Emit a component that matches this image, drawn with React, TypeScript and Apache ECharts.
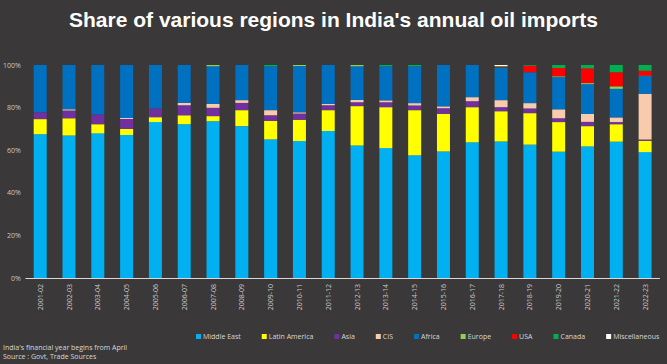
import React, { useEffect, useRef } from "react";
import * as echarts from "echarts";

const years = [
  "2001-02", "2002-03", "2003-04", "2004-05", "2005-06", "2006-07", "2007-08", "2008-09",
  "2009-10", "2010-11", "2011-12", "2012-13", "2013-14", "2014-15", "2015-16", "2016-17",
  "2017-18", "2018-19", "2019-20", "2020-21", "2021-22", "2022-23",
];

const middleEast = [67.5, 66.9, 67.9, 67.1, 73.2, 72.2, 73.6, 71.3, 65.1, 64.3, 69.0, 62.2, 61.0, 57.6, 59.4, 63.7, 64.1, 62.6, 59.3, 61.8, 64.0, 59.1];
const latinAmerica = [7.1, 8.1, 4.3, 2.8, 2.3, 4.2, 2.4, 7.5, 8.7, 10.0, 9.8, 18.5, 19.2, 21.2, 17.7, 16.5, 14.2, 14.8, 13.9, 9.5, 8.2, 5.3];
const asia = [3.2, 3.6, 4.6, 4.7, 4.1, 4.7, 3.9, 3.4, 2.6, 2.9, 2.3, 1.8, 2.3, 2.2, 2.6, 2.8, 1.9, 2.2, 1.8, 2.0, 1.0, 0.6];
const cis = [0, 0.6, 0, 0.5, 0, 1.1, 1.8, 1.3, 2.4, 0.6, 0.6, 1.1, 0.9, 1.1, 0.9, 1.9, 3.3, 2.5, 4.2, 3.7, 2.2, 21.5];
const africa = [22.2, 20.8, 23.2, 24.9, 20.4, 17.8, 17.7, 16.5, 20.6, 21.7, 18.3, 15.8, 16.0, 17.3, 19.4, 15.1, 15.2, 14.5, 15.1, 14.0, 13.4, 8.3];
const europe = [0, 0, 0, 0, 0, 0, 0.6, 0, 0, 0.5, 0, 0.6, 0, 0, 0, 0, 0, 0, 0.4, 0.5, 1.2, 0.2];
const usa = [0, 0, 0, 0, 0, 0, 0, 0, 0, 0, 0, 0, 0, 0, 0, 0, 0.4, 3.1, 3.9, 6.9, 6.6, 2.3];
const canada = [0, 0, 0, 0, 0, 0, 0, 0, 0.6, 0, 0, 0, 0.6, 0.6, 0, 0, 0.4, 0.3, 1.4, 1.6, 3.4, 2.7];
const miscellaneous = [0, 0, 0, 0, 0, 0, 0, 0, 0, 0, 0, 0, 0, 0, 0, 0, 0.5, 0, 0, 0, 0, 0];

const yTicks = [0, 20, 40, 60, 80, 100];

const seriesDefs = [
  { name: "Middle East", data: middleEast, color: "#00B0F0" },
  { name: "Latin America", data: latinAmerica, color: "#FFFF00" },
  { name: "Asia", data: asia, color: "#7030A0" },
  { name: "CIS", data: cis, color: "#F8CBAD" },
  { name: "Africa", data: africa, color: "#0070C0" },
  { name: "Europe", data: europe, color: "#92D050" },
  { name: "USA", data: usa, color: "#FF0000" },
  { name: "Canada", data: canada, color: "#00B050" },
  { name: "Miscellaneous", data: miscellaneous, color: "#FFFFFF" },
];

export default function App() {
  const ref = useRef<HTMLDivElement>(null);
  useEffect(() => {
    if (!ref.current) return;
    const chart = echarts.init(ref.current, undefined, { renderer: "svg" });
    const textColor = "#D9D9D9";
    chart.setOption({
      animation: false,
      backgroundColor: "#3A3838",
      title: {
        text: "Share of various regions in India's annual oil imports",
        left: "center",
        top: 4,
        textStyle: {
          color: "#FFFFFF",
          fontFamily: "Liberation Sans, Arial, sans-serif",
          fontWeight: "bold",
          fontSize: 21,
        },
      },
      grid: { left: 25, right: 7.5, top: 65, bottom: 86, containLabel: false },
      legend: {
        left: 196,
        top: 333,
        width: 470,
        itemWidth: 5,
        itemHeight: 5,
        itemGap: 21,
        icon: "rect",
        padding: 0,
        textStyle: { color: textColor, fontSize: 7, fontFamily: "Open Sans, sans-serif", padding: [0, 0, 0, -3] },
        data: seriesDefs.map((s) => s.name),
      },
      xAxis: {
        type: "category",
        data: years,
        axisLine: { show: true, lineStyle: { color: "#D9D9D9", width: 1 } },
        axisTick: { show: false },
        axisLabel: {
          rotate: 90,
          color: "#C8C8C8",
          fontSize: 7,
          fontFamily: "Open Sans, sans-serif",
          margin: 6,
          interval: 0,
        },
      },
      yAxis: {
        type: "value",
        min: yTicks[0],
        max: yTicks[yTicks.length - 1],
        interval: 20,
        splitLine: { show: false },
        axisLine: { show: false },
        axisTick: { show: false },
        axisLabel: {
          formatter: "{value}%",
          color: "#C8C8C8",
          fontSize: 7,
          fontFamily: "Open Sans, sans-serif",
          margin: 5,
        },
      },
      series: seriesDefs.map((s) => ({
        name: s.name,
        type: "bar",
        stack: "total",
        barWidth: 13,
        data: s.data,
        itemStyle: { color: s.color },
      })),
      graphic: [
        {
          type: "text",
          left: 3,
          top: 344,
          style: {
            text: "India's financial year begins from April",
            fill: textColor,
            fontSize: 7,
            fontFamily: "Open Sans, sans-serif",
          },
        },
        {
          type: "text",
          left: 3,
          top: 353,
          style: {
            text: "Source : Govt, Trade Sources",
            fill: textColor,
            fontSize: 7,
            fontFamily: "Open Sans, sans-serif",
          },
        },
      ],
    });
    return () => chart.dispose();
  }, []);
  return <div ref={ref} style={{ width: 667, height: 364, position: "absolute", left: 0, top: 0 }} />;
}
